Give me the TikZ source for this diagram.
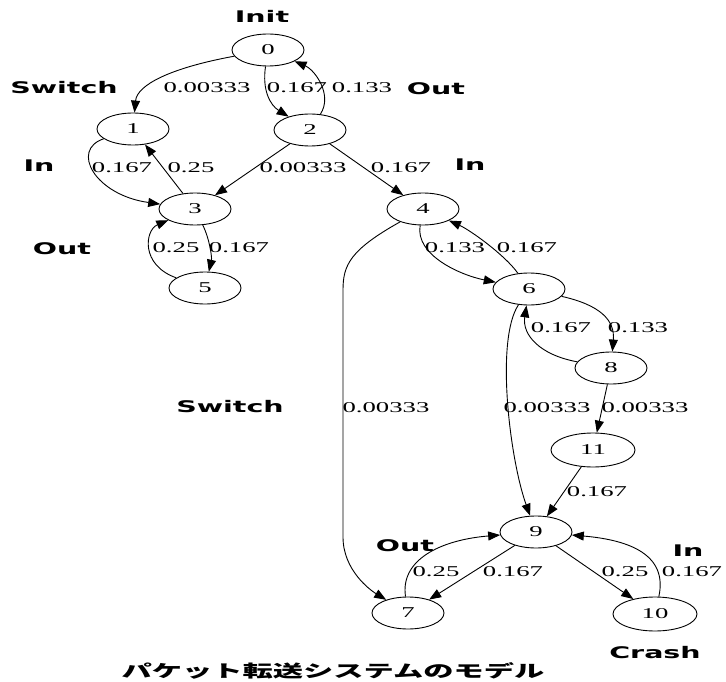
\documentclass[tikz,border=0pt]{standalone}
\usepackage{fontspec}
\usetikzlibrary{shapes.geometric,arrows.meta}
\newfontfamily\labfont{Liberation Serif}[FakeStretch=1.78]
\newfontfamily\actfont{DejaVu Sans}[FakeStretch=1.78]
\newfontfamily\cjkfont{Noto Sans CJK JP}[FakeStretch=1.78]
\tikzset{
  st/.style={ellipse, draw, line width=0.9pt, minimum width=72pt, minimum height=32pt, inner sep=0pt, font=\labfont\fontsize{15}{15}\selectfont},
  wide/.style={minimum width=84pt, minimum height=34pt},
  ed/.style={draw, line width=0.9pt, -{Triangle[length=12pt,width=9pt]}},
  pl/.style={font=\labfont\fontsize{15}{15}\selectfont, inner sep=0pt},
  act/.style={font=\actfont\bfseries\fontsize{16}{16}\selectfont, inner sep=0pt},
}
\begin{document}
\begin{tikzpicture}[x=1pt,y=-1pt]
\useasboundingbox (0,0) rectangle (726,682);
% states
\node[st] (n0) at (268,50) {0};
\node[st] (n1) at (133,129) {1};
\node[st] (n2) at (310,130) {2};
\node[st] (n3) at (195,209) {3};
\node[st] (n4) at (423,209) {4};
\node[st] (n5) at (205,288) {5};
\node[st] (n6) at (529,289) {6};
\node[st] (n8) at (611,368) {8};
\node[st,wide] (n11) at (593,450) {11};
\node[st] (n9) at (536,532) {9};
\node[st] (n7) at (408,613) {7};
\node[st,wide] (n10) at (655,614) {10};
% transitions
\draw[ed] (n0) .. controls (170,68) and (137,85) .. (n1);
\draw[ed] (n0) .. controls (262,90) and (270,105) .. (n2);
\draw[ed] (n2) .. controls (333,95) and (315,70) .. (n0);
\draw[ed] (n1) .. controls (70,150) and (95,195) .. (n3);
\draw[ed] (n3) -- (n1);
\draw[ed] (n2) -- (n3);
\draw[ed] (n2) -- (n4);
\draw[ed] (n5) .. controls (140,265) and (145,230) .. (n3);
\draw[ed] (n3) .. controls (210,240) and (212,258) .. (n5);
\draw[ed] (n4) .. controls (415,255) and (460,275) .. (n6);
\draw[ed] (n6) .. controls (505,255) and (470,230) .. (n4);
\draw[ed] (n4) .. controls (350,250) and (343,265) .. (343,290) -- (343,537) .. controls (343,570) and (370,590) .. (n7);
\draw[ed] (n6) .. controls (495,340) and (510,460) .. (n9);
\draw[ed] (n8) .. controls (540,355) and (522,335) .. (n6);
\draw[ed] (n6) .. controls (600,305) and (615,320) .. (n8);
\draw[ed] (n8) -- (n11);
\draw[ed] (n11) -- (n9);
\draw[ed] (n7) .. controls (400,560) and (440,540) .. (n9);
\draw[ed] (n9) -- (n7);
\draw[ed] (n9) -- (n10);
\draw[ed] (n10) .. controls (668,555) and (630,540) .. (n9);
% probabilities
\node[pl] (p01) at (207,88) {0.00333};
\node[pl] (p02) at (297,88) {0.167};
\node[pl] (p20) at (362,88) {0.133};
\node[pl] (p13) at (122,168) {0.167};
\node[pl] (p31) at (191,168) {0.25};
\node[pl] (p23) at (303,168) {0.00333};
\node[pl] (p24) at (401,168) {0.167};
\node[pl] (p53) at (176,248) {0.25};
\node[pl] (p35) at (239,248) {0.167};
\node[pl] (p46) at (455,248) {0.133};
\node[pl] (p64) at (527,248) {0.167};
\node[pl] (p86) at (561,328) {0.167};
\node[pl] (p68) at (638,328) {0.133};
\node[pl] (p47) at (386,408) {0.00333};
\node[pl] (p69) at (547,408) {0.00333};
\node[pl] (p811) at (645,408) {0.00333};
\node[pl] (p119) at (597,492) {0.167};
\node[pl] (p79) at (436,572) {0.25};
\node[pl] (p97) at (513,572) {0.167};
\node[pl] (p910) at (625,572) {0.25};
\node[pl] (p109) at (692,572) {0.167};
% actions
\node[act] (aInit) at (262,16) {Init};
\node[act] (aSw1) at (64,88) {Switch};
\node[act] (aOut1) at (436,89) {Out};
\node[act] (aIn1) at (39,166) {In};
\node[act] (aIn2) at (470,165) {In};
\node[act] (aOut2) at (62,249) {Out};
\node[act] (aSw2) at (230,407) {Switch};
\node[act] (aOut3) at (405,546) {Out};
\node[act] (aIn3) at (688,551) {In};
\node[act] (aCrash) at (655,653) {Crash};
% title
\node[font=\cjkfont\bfseries\fontsize{17}{17}\selectfont, inner sep=0pt] (title) at (333,671) {パケット転送システムのモデル};
\end{tikzpicture}
\end{document}
